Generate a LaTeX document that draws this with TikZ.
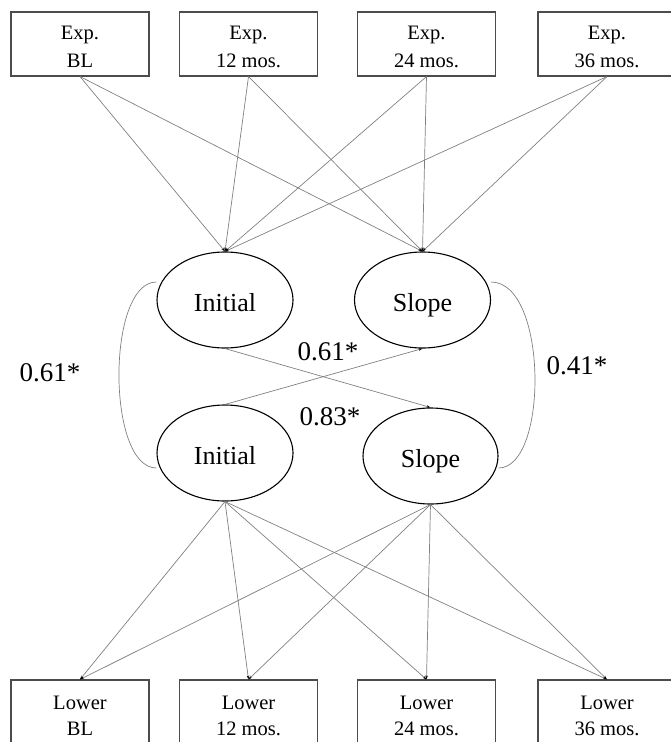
\documentclass[tikz,border=0pt]{standalone}
\usepackage{fontspec}
\setmainfont{Liberation Serif}
\usetikzlibrary{arrows.meta,shapes.geometric}
\begin{document}
\begin{tikzpicture}[x=1pt,y=-1pt,
  box/.style={draw=black!70,line width=1.1pt,minimum width=138pt,minimum height=64pt,inner sep=0pt},
  boxlbl/.style={align=center,font=\fontsize{20.5}{28}\selectfont,inner sep=0pt},
  lowlbl/.style={align=center,font=\fontsize{20.5}{26}\selectfont,inner sep=0pt},
  latent/.style={ellipse,draw=black,line width=1.1pt,minimum width=136pt,minimum height=96pt,inner sep=0pt,
    text height=22pt,text depth=0pt,font=\fontsize{26}{30}\selectfont},
  reg/.style={draw=black!50,line width=0.7pt,-{Stealth[length=4pt,width=2.5pt,black]}},
  cov/.style={draw=black!50,line width=0.7pt},
  coef/.style={font=\fontsize{27}{30}\selectfont,inner sep=0pt}
]
\useasboundingbox (0,0) rectangle (670,742);

% exposure measures
\node[box,label={[boxlbl,yshift=-3pt]center:{Exp.\\BL}}]      (e0) at (80,44) {};
\node[box,label={[boxlbl,yshift=-3pt]center:{Exp.\\12 mos.}}] (e1) at (248.5,44) {};
\node[box,label={[boxlbl,yshift=-3pt]center:{Exp.\\24 mos.}}] (e2) at (426.5,44) {};
\node[box,label={[boxlbl,yshift=-3pt]center:{Exp.\\36 mos.}}] (e3) at (607,44) {};

% outcome measures
\node[box,label={[lowlbl,yshift=-4pt]center:{Lower\\BL}}]      (l0) at (80,712) {};
\node[box,label={[lowlbl,yshift=-4pt]center:{Lower\\12 mos.}}] (l1) at (248.5,712) {};
\node[box,label={[lowlbl,yshift=-4pt]center:{Lower\\24 mos.}}] (l2) at (426.5,712) {};
\node[box,label={[lowlbl,yshift=-4pt]center:{Lower\\36 mos.}}] (l3) at (607,712) {};

% growth factors
\node[latent] (i1) at (225,300) {Initial};
\node[latent] (s1) at (422.5,300) {Slope};
\node[latent] (i2) at (225,453) {Initial};
\node[latent,minimum width=135pt] (s2) at (430.5,456) {Slope};

% exposure -> factors
\foreach \e in {e0,e1,e2,e3} {
  \draw[reg] (\e.south) -- (i1.north);
  \draw[reg] (\e.south) -- (s1.north);
}

% factors -> outcome
\foreach \l in {l0,l1,l2,l3} {
  \draw[reg] (i2.south) -- (\l.north);
  \draw[reg] (s2.south) -- (\l.north);
}

% cross-lagged paths
\draw[reg] (i1.south) -- (s2.north);
\draw[reg] (i2.north) -- (s1.south);

% covariances
\draw[cov] ([yshift=18pt]i1.west) .. controls +(-50,0) and +(-50,0) .. ([yshift=-15pt]i2.west);
\draw[cov] ([yshift=18pt]s1.east) .. controls +(57,0) and +(50,0) .. ([yshift=-12pt]s2.east);

% coefficients
\node[coef] (c1) at (50,373) {0.61*};
\node[coef] (c2) at (328,352) {0.61*};
\node[coef] (c3) at (330,417) {0.83*};
\node[coef] (c4) at (577,366) {0.41*};
\end{tikzpicture}
\end{document}
